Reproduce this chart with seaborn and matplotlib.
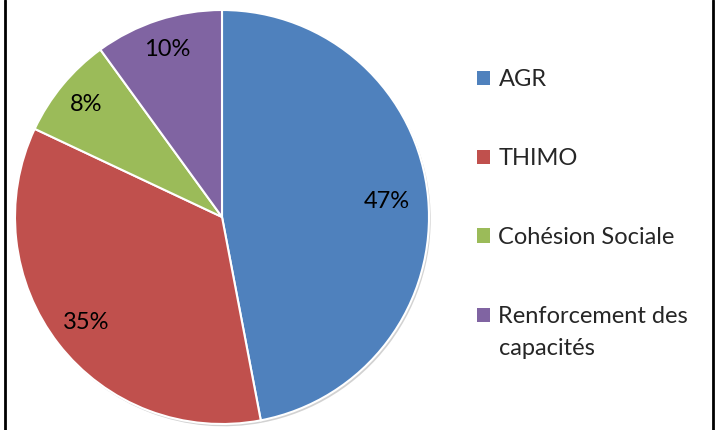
import matplotlib
matplotlib.use("Agg")
import numpy as np
import matplotlib.pyplot as plt
import seaborn as sns
from matplotlib.patches import Patch
from matplotlib.lines import Line2D

sns.set_style("white")
plt.rcParams['font.family'] = ['Lato', 'DejaVu Sans']

# data
categories = ["AGR", "THIMO", "Cohésion Sociale", "Renforcement des\ncapacités"]
shares = [47, 35, 8, 10]
colors = ["#4F81BD", "#C0504D", "#9BBB59", "#8064A2"]
label_dist = [0.80, 0.83, 0.85, 0.85]  # excel "best fit" label radii

fig = plt.figure(figsize=(7.16, 4.30), dpi=100)
ax = fig.add_axes([15 / 716, 6 / 430, 414 / 716, 414 / 430])

wedges, texts, autotexts = ax.pie(
    shares, colors=colors, startangle=90, counterclock=False,
    autopct="%1.0f%%", pctdistance=0.78,
    wedgeprops=dict(edgecolor="white", linewidth=1.5),
    textprops=dict(fontsize=17, color="black"),
    shadow=dict(ox=0.006, oy=-0.008, facecolor="#808080", edgecolor="none", alpha=0.35),
)
for w, t, d in zip(wedges, autotexts, label_dist):
    mid = np.deg2rad((w.theta1 + w.theta2) / 2)
    t.set_position((d * np.cos(mid), d * np.sin(mid)))
ax.set_xlim(-1.0, 1.0)
ax.set_ylim(-1.0, 1.0)
ax.set_aspect("equal")

handles = [Patch(facecolor=c, edgecolor="none") for c in colors]
leg = fig.legend(handles, categories, loc="upper left", bbox_to_anchor=(456 / 716, 1 - 48 / 430),
                 frameon=False, fontsize=17, handlelength=0.55, handleheight=0.55,
                 handletextpad=0.35, labelspacing=2.45)
for txt in leg.get_texts():
    txt.set_linespacing(1.63)
# put the last square next to the first line of its wrapped label
last = leg.legend_handles[3]
last.set_y(last.get_y() + 12.2)

# outer border lines
fig.add_artist(Line2D([5 / 716, 5 / 716], [0, 1], color="black", linewidth=2, transform=fig.transFigure))
fig.add_artist(Line2D([713 / 716, 713 / 716], [0, 1], color="black", linewidth=2, transform=fig.transFigure))

fig.savefig("out.png", dpi=100)
